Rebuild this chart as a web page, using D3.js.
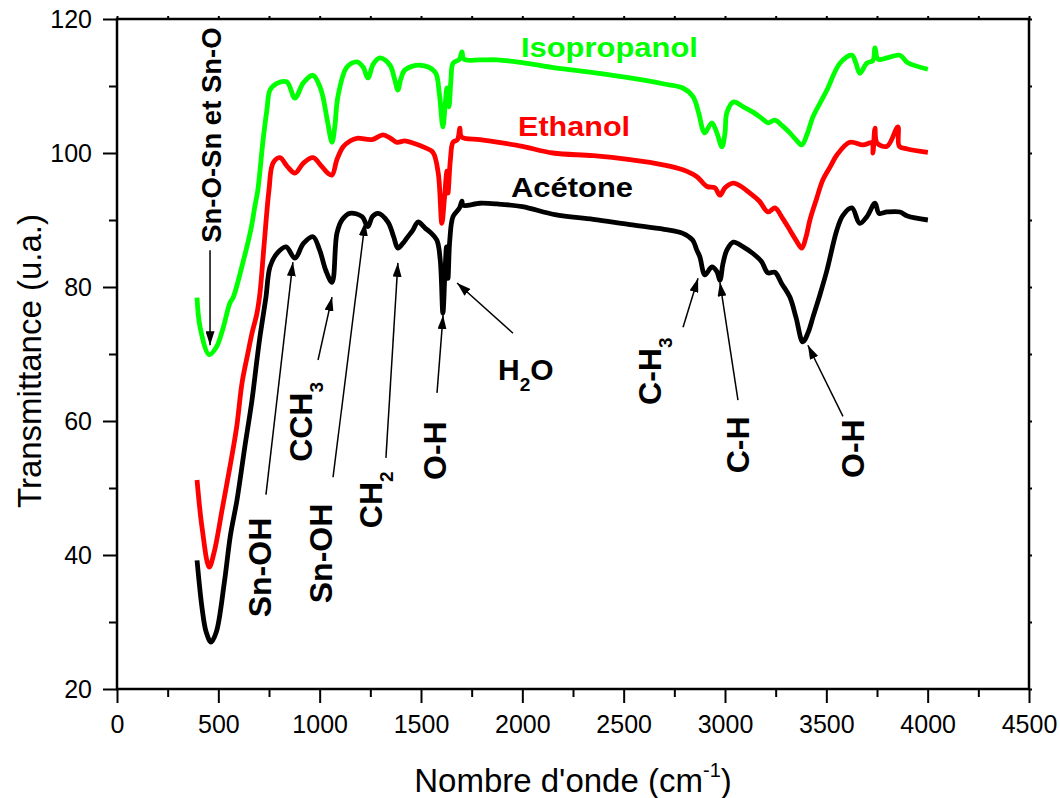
<!DOCTYPE html>
<html lang="fr">
<head>
<meta charset="utf-8">
<title>Spectres IR</title>
<script src="https://d3js.org/d3.v7.min.js"></script>
<style>
  body {margin: 0; background: #fff;}
  text {font-family: "Liberation Sans", Arial, sans-serif;}
  .lbl {font-weight: bold;}
</style>
</head>
<body>
<script>

// Acétone (black)
var acetoneWn = [395, 420, 440, 464, 490, 530, 560, 592, 630, 666, 690, 705, 720, 735, 755, 789, 834, 878, 920, 967,
  1000, 1030, 1061, 1085, 1110, 1149, 1209, 1238, 1260, 1288, 1337, 1365, 1386, 1410, 1430, 1460, 1485, 1520, 1544, 1578,
  1595, 1608, 1618, 1626, 1633, 1642, 1658, 1690, 1702, 1707, 1791, 1875, 2000, 2161, 2350, 2531, 2700, 2792, 2840, 2861,
  2876, 2901, 2935, 2960, 2975, 2990, 3009, 3041, 3090, 3138, 3180, 3212, 3246, 3280, 3320, 3350, 3384, 3410, 3434, 3470,
  3503, 3552, 3582, 3626, 3665, 3700, 3740, 3760, 3800, 3863, 3900, 4001];
var acetoneT = [39.2, 32, 28.5, 27.0, 28.5, 36, 43, 48.2, 56, 63.1, 69, 72.5, 75.5, 78.5, 83, 85, 86, 84.3, 86.5, 87.5,
  85.5, 82.5, 80.7, 88, 90, 91, 90.5, 89, 90.5, 91, 89.7, 87.5, 85.8, 86.5, 87.3, 88.5, 89.7, 88.8, 88.2, 87,
  84, 76.1, 82, 86, 81.3, 87, 90.5, 91.8, 92.8, 92.2, 92.5, 92.4, 92, 90.8, 90.1, 89.3, 88.6, 88, 87, 85.5,
  84.5, 81.8, 83, 82.3, 81, 83.5, 85.5, 86.7, 86, 85, 83.8, 82.1, 82.2, 80.5, 78.5, 75.5, 71.8, 73.2, 75.5, 79,
  82.5, 88.5, 90.7, 91.8, 89.5, 90.5, 92.5, 91, 91.2, 91.2, 90.6, 90];

// Ethanol (red)
var ethanolWn = [395, 420, 455, 480, 520, 557, 590, 617, 645, 666, 690, 705, 725, 750, 770, 804, 840, 878, 920, 967,
  1010, 1040, 1061, 1085, 1115, 1150, 1184, 1258, 1312, 1350, 1381, 1420, 1460, 1520, 1559, 1585, 1603, 1615, 1628, 1633,
  1645, 1658, 1680, 1692, 1700, 1791, 1900, 2000, 2151, 2350, 2531, 2700, 2792, 2860, 2911, 2950, 2975, 3000, 3041, 3080,
  3123, 3170, 3212, 3246, 3285, 3320, 3350, 3379, 3400, 3419, 3450, 3483, 3520, 3552, 3616, 3680, 3725, 3730, 3740, 3750,
  3800, 3853, 3860, 3900, 4001];
var ethanolT = [51.2, 44, 38.2, 40.5, 47, 53.1, 59, 65.7, 70, 73.1, 76, 79, 86, 94.5, 98.5, 99.3, 98, 97, 98.5, 99.3,
  98, 97, 96.7, 99, 100.9, 101.8, 102.2, 102, 102.7, 102.2, 101.6, 101.8, 101.5, 100.8, 100.1, 97, 89.5, 93, 97.3, 94,
  99, 101.6, 102, 103.7, 102.4, 102, 101.5, 101, 100, 99.6, 99, 98.2, 97.5, 96.5, 95, 94.8, 93.7, 94.8, 95.5, 95,
  94, 92.8, 91.2, 91.8, 90.2, 88.5, 87, 85.8, 87.5, 90, 93, 96, 98, 99.7, 101.6, 101.2, 101.5, 100, 103.7, 101.5,
  101, 103.9, 101, 100.6, 100.1];

// Isopropanol (green)
var isoWn = [395, 410, 455, 490, 520, 557, 574, 620, 660, 680, 695, 721, 740, 755, 789, 838, 878, 920, 967, 1000,
  1016, 1040, 1061, 1075, 1090, 1134, 1184, 1215, 1238, 1265, 1298, 1347, 1370, 1386, 1400, 1421, 1495, 1569, 1590, 1608,
  1620, 1628, 1638, 1648, 1658, 1690, 1702, 1712, 1791, 1875, 2000, 2161, 2350, 2531, 2700, 2792, 2842, 2870, 2891, 2901,
  2935, 2960, 2985, 3000, 3009, 3041, 3090, 3138, 3180, 3212, 3246, 3285, 3320, 3350, 3379, 3405, 3434, 3470, 3503, 3567,
  3626, 3645, 3665, 3700, 3730, 3740, 3755, 3800, 3863, 3900, 4001];
var isoT = [78.4, 74, 69.9, 71, 73.5, 77.6, 78.5, 83.5, 88.5, 92, 94.5, 102, 106.5, 109.4, 110.4, 110.6, 108.2, 110.5, 111.6, 110,
  108.4, 104.5, 101.6, 104, 108.4, 112.8, 113.6, 112.8, 111.2, 113.3, 114.2, 113.1, 111, 109.4, 111, 112.4, 113.1, 112.1, 109, 103.9,
  107.5, 109.7, 106.9, 111, 113.4, 114, 115.1, 114, 113.9, 113.9, 113.5, 112.7, 112, 111.2, 110.3, 109.7, 108.4, 106, 103.4, 103,
  104.5, 103, 100.9, 103, 106, 107.6, 106.9, 106.1, 105.2, 104.5, 104.9, 104, 103, 102, 101.2, 102.8, 105.4, 107.5, 109.4, 113.4,
  114.6, 113.5, 111.9, 113.4, 113.8, 115.7, 114, 114.2, 114.6, 113.5, 112.5];

var seriesNames = ["Isopropanol", "Ethanol", "Acétone"];
var seriesColors = ["#00ff00", "#ff0000", "#000000"];

var xTicks = [0, 500, 1000, 1500, 2000, 2500, 3000, 3500, 4000, 4500];
var yTicks = [20, 40, 60, 80, 100, 120];

// band labels (rotated) : text, subscript, wavenumber, transmittance of label start
var bandText = ["Sn-O-Sn et Sn-O", "Sn-OH", "CCH", "Sn-OH", "CH", "O-H", "C-H", "C-H", "O-H"];
var bandSub  = ["", "", "3", "", "2", "", "3", "", ""];
var bandWn   = [513, 760, 962, 1061, 1308, 1623, 2684, 3118, 3686];
var bandT    = [86.6, 30.7, 53.9, 32.8, 44.0, 51.2, 62.4, 52.2, 51.5];

// arrows : from (wn, T) to (wn, T)
var arrowFromWn = [459, 735, 992, 1066, 1327, 1579, 1954, 2793, 3064, 3582];
var arrowFromT  = [85.5, 49.0, 69.1, 51.6, 54.5, 64.2, 73.1, 74.0, 63.1, 60.7];
var arrowToWn   = [459, 868, 1061, 1224, 1386, 1609, 1678, 2867, 2975, 3409];
var arrowToT    = [71.3, 83.7, 78.5, 89.7, 83.6, 75.8, 80.6, 81.3, 80.7, 71.3];

var w = 1060, h = 798;
var margin = {top: 19, right: 31, bottom: 109, left: 117};

var svg = d3.select("body").append("svg")
    .attr("width", w)
    .attr("height", h);

var xScale = d3.scaleLinear().domain([0, 4500]).range([margin.left, w - margin.right]);
var yScale = d3.scaleLinear().domain([20, 120]).range([h - margin.bottom, margin.top]);

var defs = svg.append("defs");
defs.append("marker")
    .attr("id", "head")
    .attr("markerUnits", "userSpaceOnUse")
    .attr("viewBox", "0 0 14 9")
    .attr("markerWidth", 14)
    .attr("markerHeight", 9)
    .attr("refX", 14)
    .attr("refY", 4.5)
    .attr("orient", "auto")
    .append("path")
    .attr("d", "M0,0 L14,4.5 L0,9 Z")
    .attr("fill", "#000");

// curves
var line = d3.line()
    .x(d => xScale(d[0]))
    .y(d => yScale(d[1]))
    .curve(d3.curveCatmullRom.alpha(0.5));

var allSeries = [d3.zip(isoWn, isoT), d3.zip(ethanolWn, ethanolT), d3.zip(acetoneWn, acetoneT)];

svg.selectAll(".curve")
    .data(allSeries)
    .join("path")
    .attr("class", "curve")
    .attr("d", line)
    .attr("fill", "none")
    .attr("stroke", (d, i) => seriesColors[i])
    .attr("stroke-width", 4.8)
    .attr("stroke-linejoin", "round");

// axes
svg.append("g")
    .attr("transform", `translate(0, ${yScale(20)})`)
    .call(d3.axisBottom(xScale).tickValues(xTicks).tickSize(14).tickPadding(12).tickFormat(d3.format("d")));
svg.append("g")
    .attr("transform", `translate(0, ${yScale(20)})`)
    .call(d3.axisBottom(xScale).tickValues(d3.range(250, 4500, 500)).tickSize(8).tickFormat(""));
svg.append("g")
    .attr("transform", `translate(${xScale(0)}, 0)`)
    .call(d3.axisLeft(yScale).tickValues(yTicks).tickSize(14).tickPadding(11));
svg.append("g")
    .attr("transform", `translate(${xScale(0)}, 0)`)
    .call(d3.axisLeft(yScale).tickValues(d3.range(30, 120, 20)).tickSize(8).tickFormat(""));
svg.append("g")
    .attr("transform", `translate(0, ${yScale(120)})`)
    .call(d3.axisTop(xScale).tickValues(d3.range(0, 4501, 250)).tickSize(3).tickFormat(""));
svg.append("g")
    .attr("transform", `translate(${xScale(4500)}, 0)`)
    .call(d3.axisRight(yScale).tickValues(d3.range(20, 121, 10)).tickSize(3).tickFormat(""));

svg.selectAll(".domain").remove();
svg.selectAll(".tick line").attr("stroke", "#000").attr("stroke-width", 2);
svg.selectAll(".tick text").attr("font-size", 25).attr("fill", "#000")
    .style("font-family", "'Liberation Sans', Arial, sans-serif");

svg.append("rect")
    .attr("x", xScale(0))
    .attr("y", yScale(120))
    .attr("width", xScale(4500) - xScale(0))
    .attr("height", yScale(20) - yScale(120))
    .attr("fill", "none")
    .attr("stroke", "#000")
    .attr("stroke-width", 2.5);

// axis titles
var xt = svg.append("text")
    .attr("x", (xScale(0) + xScale(4500)) / 2)
    .attr("y", 792)
    .attr("text-anchor", "middle")
    .attr("font-size", 33);
xt.append("tspan").text("Nombre d'onde (cm");
xt.append("tspan").attr("font-size", 20).attr("dy", -15).text("-1");
xt.append("tspan").attr("dy", 15).text(")");

svg.append("text")
    .attr("transform", `translate(41, ${(yScale(20) + yScale(120)) / 2 + 7}) rotate(-90)`)
    .attr("text-anchor", "middle")
    .attr("font-size", 33)
    .text("Transmittance (u.a.)");

// arrows
svg.selectAll(".arrow")
    .data(d3.range(arrowFromWn.length))
    .join("line")
    .attr("class", "arrow")
    .attr("x1", i => xScale(arrowFromWn[i]))
    .attr("y1", i => yScale(arrowFromT[i]))
    .attr("x2", i => xScale(arrowToWn[i]))
    .attr("y2", i => yScale(arrowToT[i]))
    .attr("stroke", "#000")
    .attr("stroke-width", 1.5)
    .attr("marker-end", "url(#head)");

// band labels
var bands = svg.selectAll(".band")
    .data(d3.range(bandText.length))
    .join("text")
    .attr("class", "lbl band")
    .attr("transform", i => `translate(${xScale(bandWn[i])}, ${yScale(bandT[i])}) rotate(-90)`)
    .attr("font-size", i => i == 0 ? 27.5 : 32);
bands.append("tspan").text(i => bandText[i]);
bands.filter(i => bandSub[i] != "")
    .append("tspan")
    .attr("font-size", 19)
    .attr("dy", 11)
    .text(i => bandSub[i]);

// H2O
var water = svg.append("text")
    .attr("class", "lbl")
    .attr("x", xScale(1880))
    .attr("y", yScale(66.1))
    .attr("font-size", 30);
water.append("tspan").text("H");
water.append("tspan").attr("font-size", 19).attr("dy", 11).text("2");
water.append("tspan").attr("dy", -11).text("O");

// series names
var nameWn = [1993, 1979, 1944];
var nameT = [114.3, 102.5, 93.4];
var nameLen = [177, 112, 122];
svg.selectAll(".sname")
    .data(seriesNames)
    .join("text")
    .attr("class", "lbl sname")
    .attr("x", (d, i) => xScale(nameWn[i]))
    .attr("y", (d, i) => yScale(nameT[i]))
    .attr("font-size", 28)
    .attr("fill", (d, i) => seriesColors[i])
    .attr("textLength", (d, i) => nameLen[i])
    .attr("lengthAdjust", "spacingAndGlyphs")
    .text(d => d);

</script>
</body>
</html>
